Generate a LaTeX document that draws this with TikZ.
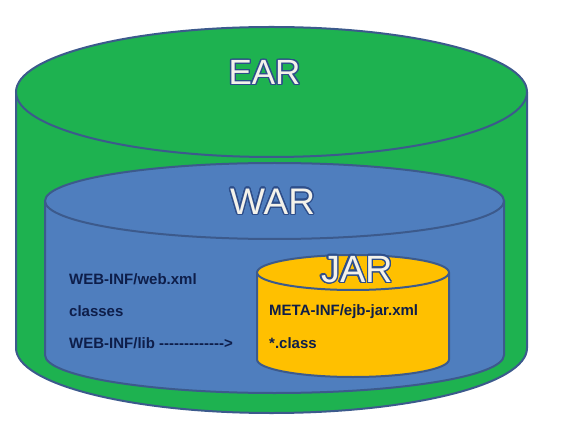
\documentclass[tikz,border=0pt]{standalone}
\usepackage{fontspec}
\setmainfont{Liberation Sans}[Ligatures=TeXOff]
\usepackage[copies]{contour}
\contournumber{20}
\definecolor{eargreen}{HTML}{1EB250}
\definecolor{warblue}{HTML}{4F7EBE}
\definecolor{jaryellow}{HTML}{FFC000}
\definecolor{edgeblue}{HTML}{3C5A8C}
\definecolor{inkblue}{HTML}{0E1E4A}
\definecolor{capwhite}{HTML}{F4F2EA}
\definecolor{capedge}{HTML}{2E4E8A}
\begin{document}
\begin{tikzpicture}[x=1pt,y=1pt,
  cyl/.style={draw=edgeblue,line width=2pt},
  bigcap/.style={inner sep=0pt},
  item/.style={inner sep=0pt,anchor=west,text=inkblue,font=\fontsize{15}{16}\selectfont\bfseries}]
\useasboundingbox (0,0) rectangle (569,423);
% EAR cylinder
\fill[eargreen] (16,331) -- (16,75) arc[start angle=180,end angle=360,x radius=255.5,y radius=65] -- (527,331) arc[start angle=0,end angle=180,x radius=255.5,y radius=65] -- cycle;
\draw[cyl] (16,331) -- (16,75) arc[start angle=180,end angle=360,x radius=255.5,y radius=65] -- (527,331);
\draw[cyl,fill=eargreen] (271.5,331) ellipse[x radius=255.5,y radius=65];
% WAR cylinder
\fill[warblue] (45,222) -- (45,68) arc[start angle=180,end angle=360,x radius=229.5,y radius=38] -- (504,222) arc[start angle=0,end angle=180,x radius=229.5,y radius=38] -- cycle;
\draw[cyl] (45,222) -- (45,68) arc[start angle=180,end angle=360,x radius=229.5,y radius=38] -- (504,222);
\draw[cyl,fill=warblue] (274.5,222) ellipse[x radius=229.5,y radius=38];
% JAR cylinder
\fill[jaryellow] (257,150.5) -- (257,63.5) arc[start angle=180,end angle=360,x radius=96,y radius=17.5] -- (449,150.5) arc[start angle=0,end angle=180,x radius=96,y radius=17.5] -- cycle;
\draw[cyl] (257,150.5) -- (257,63.5) arc[start angle=180,end angle=360,x radius=96,y radius=17.5] -- (449,150.5);
\draw[cyl,fill=jaryellow] (353,150.5) ellipse[x radius=96,y radius=17.5];
% captions
\contourlength{1.3pt}
\node[bigcap,font=\fontsize{35}{35}\selectfont] (ear) at (264.5,350) {\contour{capedge}{\textcolor{capwhite}{EAR}}};
\node[bigcap,font=\fontsize{37}{37}\selectfont] (war) at (272.5,221) {\contour{capedge}{\textcolor{capwhite}{WAR}}};
\node[bigcap,font=\fontsize{38}{38}\selectfont] (jar) at (357,153) {\contour{capedge}{\textcolor{capwhite}{JAR}}};
% contents
\node[item] (webxml) at (69,144) {WEB-INF/web.xml};
\node[item] (classes) at (69,111.5) {classes};
\node[item] (lib) at (69,79.5) {WEB-INF/lib ------------->};
\node[item] (ejbxml) at (269,111) {META-INF/ejb-jar.xml};
\node[item] (cls) at (269,80) {*.class};
\end{tikzpicture}
\end{document}
